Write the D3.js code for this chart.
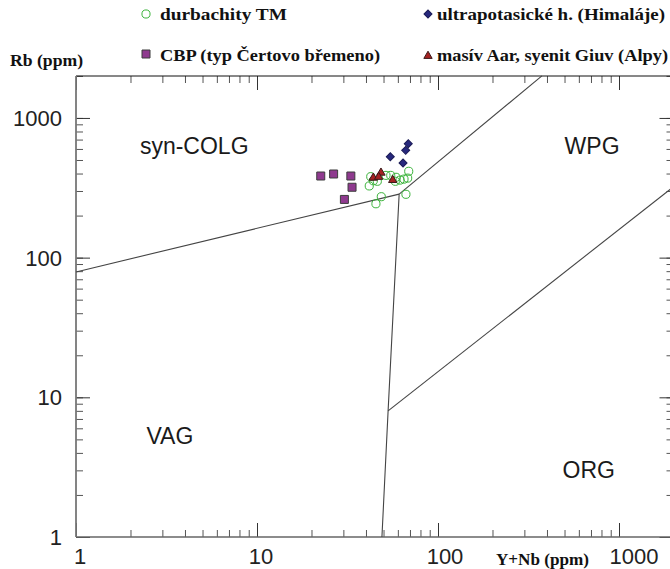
<!DOCTYPE html>
<html>
<head>
<meta charset="utf-8">
<script src="https://cdn.jsdelivr.net/npm/d3@7"></script>
<style>
body{margin:0;background:#fff;}
svg{display:block;}
</style>
</head>
<body>
<svg id="chart" width="670" height="569"></svg>
<script>
//values, [Y+Nb, Rb] in ppm
let durbachity = [[42.5,380],[43.9,355],[41.7,326],[46.2,352],[51.6,388],[54.8,388],[58.6,376],
    [58.1,352],[61.7,359],[64.9,365],[68,371],[68.9,415],[48.6,273],[45.4,243],[66.5,284]];
let cbp = [[22.5,384],[26.5,397],[33,384],[33.5,319],[30.4,261]];
let himalaje = [[68.5,654],[66.3,586],[54.5,528],[64.1,476]];
let aar = [[48.4,405],[43.9,373],[47,378],[56.2,359]];

//field boundaries
let lineColgVag = [[1,79],[61,285]];
let lineColgWpg = [[61,285],[375,2000]];
let lineVagWpg = [[61,285],[53,8],[49,1]];
let lineWpgOrg = [[53,8],[2000,322]];

let majorTicks = [1,10,100,1000];
let legendNames = ['durbachity TM','ultrapotasické h. (Himaláje)','CBP (typ Čertovo břemeno)','masív Aar, syenit Giuv (Alpy)'];
let fieldNames = ['syn-COLG','WPG','VAG','ORG'];

let svg = d3.select('#chart');

//log scales
let x = d3.scaleLog().domain([1,2000]).range([76,673.5]);
let y = d3.scaleLog().domain([1,2000]).range([537,75.9]);

let allTicks = x.ticks();

//minor + major ticks, all pointing inward
function drawAxis(axisFn, scale, transform){
    svg.append('g').attr('transform', transform)
        .call(axisFn(scale).tickValues(allTicks).tickSizeInner(-7).tickSizeOuter(0).tickFormat(''))
        .call(g => g.selectAll('line').attr('stroke','#555'))
        .call(g => g.select('.domain').remove());
    svg.append('g').attr('transform', transform)
        .call(axisFn(scale).tickValues(majorTicks).tickSizeInner(-14).tickSizeOuter(0).tickFormat(''))
        .call(g => g.selectAll('line').attr('stroke','#333'))
        .call(g => g.select('.domain').remove());
}
drawAxis(d3.axisBottom, x, 'translate(0,537)');
drawAxis(d3.axisTop, x, 'translate(0,76)');
drawAxis(d3.axisLeft, y, 'translate(76,0)');
drawAxis(d3.axisRight, y, 'translate(673.5,0)');

//frame
svg.append('line').attr('x1',76).attr('x2',674).attr('y1',76).attr('y2',76).attr('stroke','#111');
svg.append('line').attr('x1',76).attr('x2',674).attr('y1',537).attr('y2',537).attr('stroke','#666').attr('stroke-width',1.5);
svg.append('line').attr('x1',76).attr('x2',76).attr('y1',76).attr('y2',537).attr('stroke','#777').attr('stroke-width',1.8);

//tick labels
svg.append('g').selectAll('text').data(majorTicks).join('text')
    .attr('x', 62).attr('y', d => y(d) + 8)
    .attr('text-anchor','end')
    .style('font', '22px "Liberation Sans", Arial, sans-serif').attr('fill','#222')
    .text(d => d);
svg.append('g').selectAll('text').data(majorTicks).join('text')
    .attr('x', d => x(d) + 4 + (d >= 100 ? 3 : 0) + (d >= 1000 ? 8 : 0)).attr('y', 564)
    .attr('text-anchor','middle')
    .style('font', '22px "Liberation Sans", Arial, sans-serif').attr('fill','#222')
    .text(d => d);

//axis titles
let titleFont = 'bold 16px "Liberation Serif", "Times New Roman", serif';
svg.append('text').attr('x',10).attr('y',66).style('font',titleFont).attr('fill','#111')
    .attr('textLength',73).attr('lengthAdjust','spacingAndGlyphs').text('Rb (ppm)');
svg.append('text').attr('x',496).attr('y',565).style('font',titleFont).attr('fill','#111')
    .attr('textLength',93).attr('lengthAdjust','spacingAndGlyphs').text('Y+Nb (ppm)');

//boundaries
let line = d3.line().x(d => x(d[0])).y(d => y(d[1]));
svg.append('g').selectAll('path').data([lineColgVag, lineColgWpg, lineVagWpg, lineWpgOrg]).join('path')
    .attr('d', line).attr('fill','none').attr('stroke','#444').attr('stroke-width',1.1);

//field names
let fieldFont = '23px "Liberation Sans", Arial, sans-serif';
let fieldPos = [[4.5,550],[710,550],[3.3,4.6],[680,2.65]];
svg.append('g').selectAll('text').data(fieldNames).join('text')
    .attr('x', (d,i) => x(fieldPos[i][0])).attr('y', (d,i) => y(fieldPos[i][1]))
    .attr('text-anchor','middle').style('font',fieldFont).attr('fill','#1a1a1a')
    .text(d => d);

//symbols
let circleSym = d3.symbol().type(d3.symbolCircle).size(52);
let squareSym = d3.symbol().type(d3.symbolSquare).size(64);
let diamondSym = d3.symbol().type(d3.symbolSquare).size(32);
let triangleSym = d3.symbol().type(d3.symbolTriangle).size(30);

let styles = [
    {data: durbachity, sym: circleSym, fill: 'none', stroke: '#3cb43c', rot: 0},
    {data: himalaje, sym: diamondSym, fill: '#27287d', stroke: '#1a1a55', rot: 45},
    {data: cbp, sym: squareSym, fill: '#8f3a8f', stroke: '#3d3d3d', rot: 0},
    {data: aar, sym: triangleSym, fill: '#a52222', stroke: '#3a1a1a', rot: 0}
];

//draw squares first, circles, then triangles and diamonds
[2,0,3,1].forEach(i => {
    let s = styles[i];
    svg.append('g').selectAll('path').data(s.data).join('path')
        .attr('d', s.sym)
        .attr('transform', d => 'translate(' + x(d[0]) + ',' + y(d[1]) + ') rotate(' + s.rot + ')')
        .attr('fill', s.fill).attr('stroke', s.stroke).attr('stroke-width', 1);
});

//legend
let legendPos = [[146,14],[428,14],[146,54],[428,56]];
let legendLen = [127,228,220,231];
legendNames.forEach((name, i) => {
    let s = styles[i];
    let p = legendPos[i];
    svg.append('path').attr('d', s.sym)
        .attr('transform', 'translate(' + p[0] + ',' + p[1] + ') rotate(' + s.rot + ')')
        .attr('fill', s.fill).attr('stroke', s.stroke);
    svg.append('text').attr('x', p[0] + (i % 2 ? 9 : 14)).attr('y', (i < 2 ? 20 : 61))
        .style('font', titleFont).attr('fill','#111')
        .attr('textLength', legendLen[i]).attr('lengthAdjust','spacingAndGlyphs')
        .text(name);
});
</script>
</body>
</html>
